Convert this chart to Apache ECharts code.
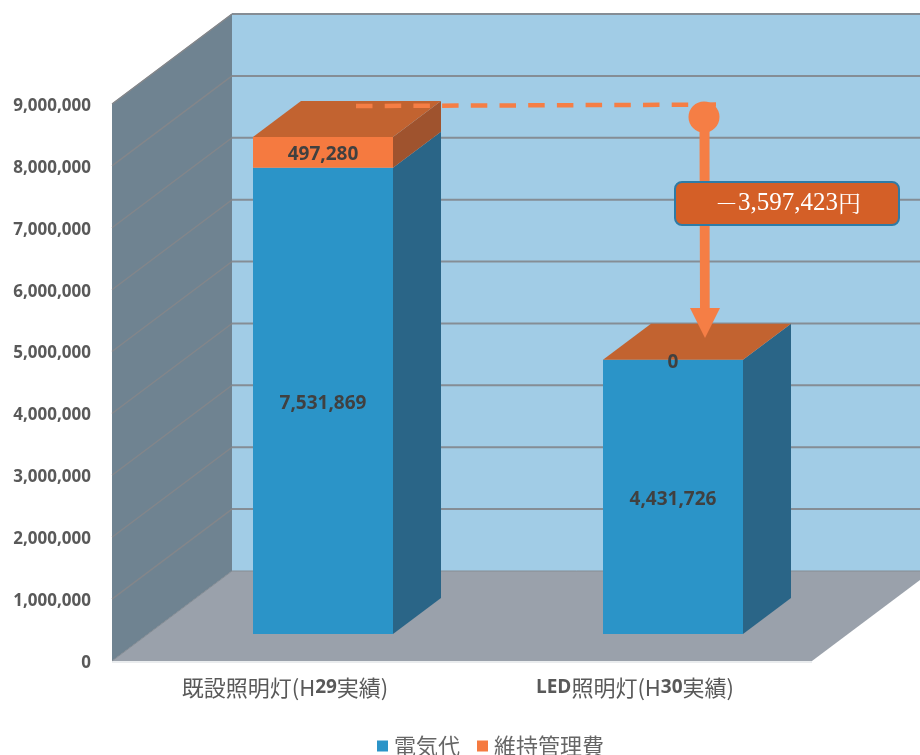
<!DOCTYPE html>
<html><head><meta charset="utf-8">
<style>html,body{margin:0;padding:0;background:#fff}#c{width:920px;height:755px}</style>
<script src="https://cdn.jsdelivr.net/npm/echarts@6/dist/echarts.min.js"></script>
</head><body><div id="c"></div>
<script>
var categories = ['既設照明灯(H29実績)', 'LED照明灯(H30実績)'];
var denkiValues = [7531869, 4431726];
var ijiValues = [497280, 0];
var yTicks = [1000000, 2000000, 3000000, 4000000, 5000000, 6000000, 7000000, 8000000, 9000000];
var seriesNames = ['電気代', '維持管理費'];
var differenceLabel = '－3,597,423円';

var WALL_DX = 120, WALL_DY = -90;
var BAR_DX = 36, BAR_DY = -27, BAR_HALF = 70, DEPTH_DX = 48, DEPTH_DY = -36;
var LABEL_FONT = 'bold 19px "Open Sans", sans-serif';
var CJK = '"Noto Sans CJK JP", sans-serif';

function poly(points, fill, z) {
  return { type: 'polygon', z2: z || 0, shape: { points: points }, style: { fill: fill }, silent: true };
}
function line(a, b, stroke, w) {
  return { type: 'line', shape: { x1: a[0], y1: a[1], x2: b[0], y2: b[1] }, style: { stroke: stroke, lineWidth: w, fill: null }, silent: true };
}
function prism(api, cat, from, to, front, side, top) {
  var b = api.coord([cat, from]), t = api.coord([cat, to]);
  var cx = b[0] + BAR_DX, yb = b[1] + BAR_DY, yt = t[1] + BAR_DY;
  var l = cx - BAR_HALF, r = cx + BAR_HALF;
  var out = [
    poly([[l, yb], [r, yb], [r, yt], [l, yt]], front),
    poly([[r, yb], [r + DEPTH_DX, yb + DEPTH_DY], [r + DEPTH_DX, yt + DEPTH_DY], [r, yt]], side)
  ];
  if (top) out.push(poly([[l, yt], [r, yt], [r + DEPTH_DX, yt + DEPTH_DY], [l + DEPTH_DX, yt + DEPTH_DY]], top));
  return { out: out, cx: cx, ym: (yb + yt) / 2 };
}
function valueText(x, y, v) {
  return { type: 'text', z2: 10, silent: true, style: { x: x, y: y + 2.5, text: v.toLocaleString('en-US'), align: 'center', verticalAlign: 'middle', font: LABEL_FONT, fill: '#404040' } };
}
function categoryLabel(s) {
  return s.replace(/^(LED)?(.*?H)(\d+)(.*)$/, function (m, a, b, c, d) {
    return (a ? '{b|' + a + '}' : '') + '{c|' + b + '}{b|' + c + '}{c|' + d + '}';
  });
}

var chart = echarts.init(document.getElementById('c'), null, { renderer: 'canvas' });
chart.setOption({
  animation: false,
  backgroundColor: '#fff',
  grid: { left: 112, top: 104, width: 700, height: 557, containLabel: false },
  legend: {
    data: seriesNames, top: 730, left: 372, icon: 'rect', itemWidth: 11, itemHeight: 11, itemGap: 17,
    textStyle: { fontFamily: CJK, fontSize: 22, color: '#666', padding: [0, 0, 0, 1] }
  },
  xAxis: {
    type: 'category', data: categories,
    axisLine: { show: false }, axisTick: { show: false }, splitLine: { show: false },
    axisLabel: {
      margin: 16, interval: 0, padding: [0, 4, 0, 0], color: '#595959',
      formatter: categoryLabel,
      rich: {
        c: { fontFamily: CJK, fontSize: 22, color: '#595959' },
        b: { fontFamily: '"Open Sans", sans-serif', fontWeight: 'bold', fontSize: 19, color: '#595959' }
      }
    }
  },
  yAxis: {
    type: 'value', min: 0, max: 9000000, interval: 1000000,
    axisLine: { show: false }, axisTick: { show: false }, splitLine: { show: false },
    axisLabel: {
      margin: 21, color: '#595959',
      formatter: function (v) { return '{t|' + v.toLocaleString('en-US') + '}'; },
      rich: { t: { padding: [4, 0, 0, 0], fontFamily: '"Open Sans", sans-serif', fontWeight: 'bold', fontSize: 17, color: '#595959' } }
    }
  },
  series: [
    {
      type: 'custom', silent: true, z: 1, data: [[0, 0]],
      encode: { x: 0, y: 1 },
      renderItem: function (params, api) {
        var o = api.coord([0, 0]);
        var size = api.size([1, 0]);
        var x0 = o[0] - size[0] / 2, y0 = o[1];
        var x1 = x0 + size[0] * categories.length;
        var top = api.coord([0, 9000000])[1];
        return { type: 'group', children: [
          poly([[x0 + WALL_DX, top + WALL_DY], [x1 + WALL_DX, top + WALL_DY], [x1 + WALL_DX, y0 + WALL_DY], [x0 + WALL_DX, y0 + WALL_DY]], '#a1cce6'),
          poly([[x0, top], [x0 + WALL_DX, top + WALL_DY], [x0 + WALL_DX, y0 + WALL_DY], [x0, y0]], '#6f8391'),
          poly([[x0, y0], [x0 + WALL_DX, y0 + WALL_DY], [x1 + WALL_DX, y0 + WALL_DY], [x1, y0]], '#9aa1ab'),
          line([x0, top], [x0 + WALL_DX, top + WALL_DY], '#8b939b', 1),
          line([x0 + WALL_DX, y0 + WALL_DY], [x1 + WALL_DX, y0 + WALL_DY], '#858d94', 1),
          line([x0, y0], [x0 + WALL_DX, y0 + WALL_DY], '#828a92', 1),
          line([x0, y0 + 1], [x1, y0 + 1], '#d5dade', 1)
        ] };
      }
    },
    {
      type: 'custom', silent: true, z: 2,
      data: yTicks.map(function (t) { return [0, t]; }),
      encode: { x: 0, y: 1 },
      renderItem: function (params, api) {
        var p = api.coord([0, api.value(1)]);
        var size = api.size([1, 0]);
        var x0 = p[0] - size[0] / 2, y = p[1];
        var x1 = x0 + size[0] * categories.length;
        return { type: 'group', children: [
          line([x0, y], [x0 + WALL_DX, y + WALL_DY], '#84868a', 1.3),
          line([x0 + WALL_DX, y + WALL_DY], [x1 + WALL_DX, y + WALL_DY], '#858d95', 2)
        ] };
      }
    },
    {
      name: seriesNames[0], type: 'custom', silent: true, z: 3,
      itemStyle: { color: '#2b94c8' },
      data: denkiValues.map(function (v, i) { return [i, v]; }),
      encode: { x: 0, y: 1 },
      renderItem: function (params, api) {
        var v = api.value(1);
        var p = prism(api, api.value(0), 0, v, '#2b94c8', '#2a6587');
        p.out.push(valueText(p.cx, p.ym, v));
        return { type: 'group', children: p.out };
      }
    },
    {
      name: seriesNames[1], type: 'custom', silent: true, z: 4,
      itemStyle: { color: '#f57a40' },
      data: ijiValues.map(function (v, i) { return [i, denkiValues[i] + v, denkiValues[i], v]; }),
      encode: { x: 0, y: 1 },
      renderItem: function (params, api) {
        var p = prism(api, api.value(0), api.value(2), api.value(1), '#f57a40', '#9f532e', '#c26330');
        p.out.push(valueText(p.cx, p.ym, api.value(3)));
        return { type: 'group', children: p.out };
      }
    }
  ],
  graphic: [
    { type: 'line', z: 100, silent: true, shape: { x1: 356, y1: 106, x2: 716, y2: 104.6 }, style: { stroke: '#f57e45', lineWidth: 4.5, lineDash: [16.5, 12.2] } },
    { type: 'circle', z: 100, silent: true, shape: { cx: 704, cy: 117, r: 15.5 }, style: { fill: '#f57e45' } },
    { type: 'polygon', z: 100, silent: true, shape: { points: [[699.5, 125], [709.5, 125], [709.7, 308], [720, 308], [705, 338], [690, 308], [700, 308]] }, style: { fill: '#f57e45' } },
    { type: 'rect', z: 101, silent: true, shape: { x: 675, y: 182, width: 224, height: 43, r: 7 }, style: { fill: '#d45f27', stroke: '#2e7ba6', lineWidth: 2 } },
    { type: 'text', z: 102, silent: true, style: {
      x: 788, y: 203, align: 'center', verticalAlign: 'middle', fill: '#fff',
      text: '{m|' + differenceLabel.slice(0, 1) + '}{n|' + differenceLabel.slice(1, -1) + '}{m|' + differenceLabel.slice(-1) + '}',
      rich: {
        m: { fontFamily: '"Noto Serif CJK JP", ' + CJK, fontSize: 23, fill: '#fff' },
        n: { fontFamily: '"Liberation Serif", serif', fontSize: 25, fill: '#fff' }
      }
    } }
  ]
});
</script></body></html>
